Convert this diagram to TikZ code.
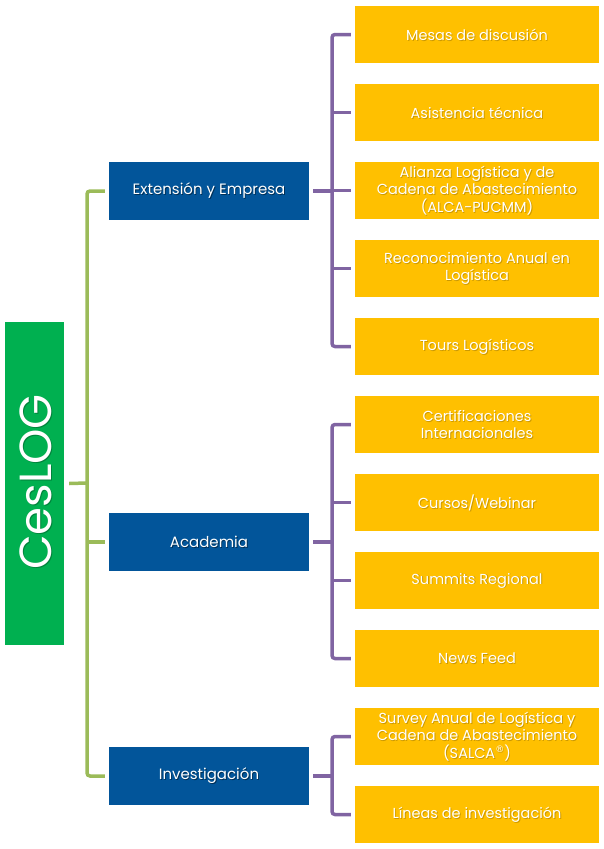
\documentclass[tikz,border=0pt]{standalone}
\usepackage{fontspec}
\setmainfont{Poppins}
\newfontfamily\regfont{DejaVu Sans}
\newcommand{\shnode}[5]{%
  \node[#1,fill=none,text=black,text opacity=#5] (#2s) at ([shift={(0.9,0.9)}]#3) {#4};
  \node[#1,text=white] (#2t) at (#3) {#4};}
\begin{document}
\begin{tikzpicture}[x=1pt,y=-1pt,
  rootbox/.style={fill=rootgreen,draw=none,minimum width=59pt,minimum height=323pt,inner sep=0pt,text=white},
  parentbox/.style={draw=none,minimum width=200pt,minimum height=58pt,inner sep=0pt,font=\fontsize{15}{18}\selectfont},
  childbox/.style={draw=none,minimum width=244pt,minimum height=57pt,inner sep=0pt,align=center,font=\fontsize{14.5}{17.5}\selectfont},
  pfill/.style={fill=pblue,draw=none,minimum width=200pt,minimum height=58pt,inner sep=0pt},
  cfill/.style={fill=cyellow,draw=none,minimum width=244pt,minimum height=57pt,inner sep=0pt},
  gline/.style={draw=lgreen,line width=3.5pt,rounded corners=3pt},
  pline/.style={draw=lpurple,line width=3.5pt,rounded corners=3pt}]
\definecolor{rootgreen}{HTML}{00B050}
\definecolor{pblue}{HTML}{02559A}
\definecolor{cyellow}{HTML}{FFC000}
\definecolor{lgreen}{HTML}{9BBB59}
\definecolor{lpurple}{HTML}{8064A2}
\useasboundingbox (0,0) rectangle (604,849);
% root
\node[rootbox] (root) at (34.5,483.5) {};
\node[text=black,text opacity=0.25,rotate=90,font=\fontsize{45}{52}\selectfont,inner sep=0pt] (roottexts) at (37,483) {CesLOG};
\node[text=white,rotate=90,font=\fontsize{45}{52}\selectfont,inner sep=0pt] (roottext) at (36,482) {CesLOG};
% parents
\node[pfill] (p1) at (209,191) {};
\node[pfill] (p2) at (209,542) {};
\node[pfill] (p3) at (209,776) {};
\shnode{parentbox}{p1}{p1.center}{Extensión y Empresa}{0.45}
\shnode{parentbox}{p2}{p2.center}{Academia}{0.45}
\shnode{parentbox}{p3}{p3.center}{Investigación}{0.45}
% children
\node[cfill] (c1) at (477,34.5) {};
\node[cfill] (c2) at (477,112.5) {};
\node[cfill] (c3) at (477,190.5) {};
\node[cfill] (c4) at (477,268.5) {};
\node[cfill] (c5) at (477,346.5) {};
\node[cfill] (c6) at (477,424.5) {};
\node[cfill] (c7) at (477,502.5) {};
\node[cfill] (c8) at (477,580.5) {};
\node[cfill] (c9) at (477,658.5) {};
\node[cfill] (c10) at (477,736.5) {};
\node[cfill] (c11) at (477,814.5) {};
\shnode{childbox}{c1}{c1.center}{Mesas de discusión}{0.2}
\shnode{childbox}{c2}{c2.center}{Asistencia técnica}{0.2}
\shnode{childbox}{c3}{c3.center}{Alianza Logística y de\\Cadena de Abastecimiento\\(ALCA-PUCMM)}{0.2}
\shnode{childbox}{c4}{c4.center}{Reconocimiento Anual en\\Logística}{0.2}
\shnode{childbox}{c5}{c5.center}{Tours Logísticos}{0.2}
\shnode{childbox}{c6}{c6.center}{Certificaciones\\Internacionales}{0.2}
\shnode{childbox}{c7}{c7.center}{Cursos/Webinar}{0.2}
\shnode{childbox}{c8}{c8.center}{Summits Regional}{0.2}
\shnode{childbox}{c9}{c9.center}{News Feed}{0.2}
\shnode{childbox}{c10}{c10.center}{Survey Anual de Logística y\\Cadena de Abastecimiento\\(SALCA\raisebox{0.75ex}{\regfont\fontsize{9}{10}\selectfont ®})}{0.2}
\shnode{childbox}{c11}{c11.center}{Líneas de investigación}{0.2}
% coordinates for spines
\coordinate (gx) at (87,483);
\coordinate (px1) at (332,191);
\coordinate (px2) at (332,542);
\coordinate (px3) at (332,776);
% green connectors
\draw[gline] ([xshift=5pt]root.east) -- (gx);
\draw[gline] ([xshift=-4pt]p1.west) -| (gx) |- ([xshift=-4pt]p3.west);
\draw[gline] ([xshift=-4pt]p2.west) -- (p2.west -| gx);
% purple connectors group 1
\draw[pline] ([xshift=4pt]p1.east) -- (px1);
\draw[pline] ([xshift=-4pt]c1.west) -| (px1) |- ([xshift=-4pt]c5.west);
\draw[pline] ([xshift=-4pt]c2.west) -- (c2.west -| px1);
\draw[pline] ([xshift=-4pt]c3.west) -- (c3.west -| px1);
\draw[pline] ([xshift=-4pt]c4.west) -- (c4.west -| px1);
% group 2
\draw[pline] ([xshift=4pt]p2.east) -- (px2);
\draw[pline] ([xshift=-4pt]c6.west) -| (px2) |- ([xshift=-4pt]c9.west);
\draw[pline] ([xshift=-4pt]c7.west) -- (c7.west -| px2);
\draw[pline] ([xshift=-4pt]c8.west) -- (c8.west -| px2);
% group 3
\draw[pline] ([xshift=4pt]p3.east) -- (px3);
\draw[pline] ([xshift=-4pt]c10.west) -| (px3) |- ([xshift=-4pt]c11.west);
\end{tikzpicture}
\end{document}
